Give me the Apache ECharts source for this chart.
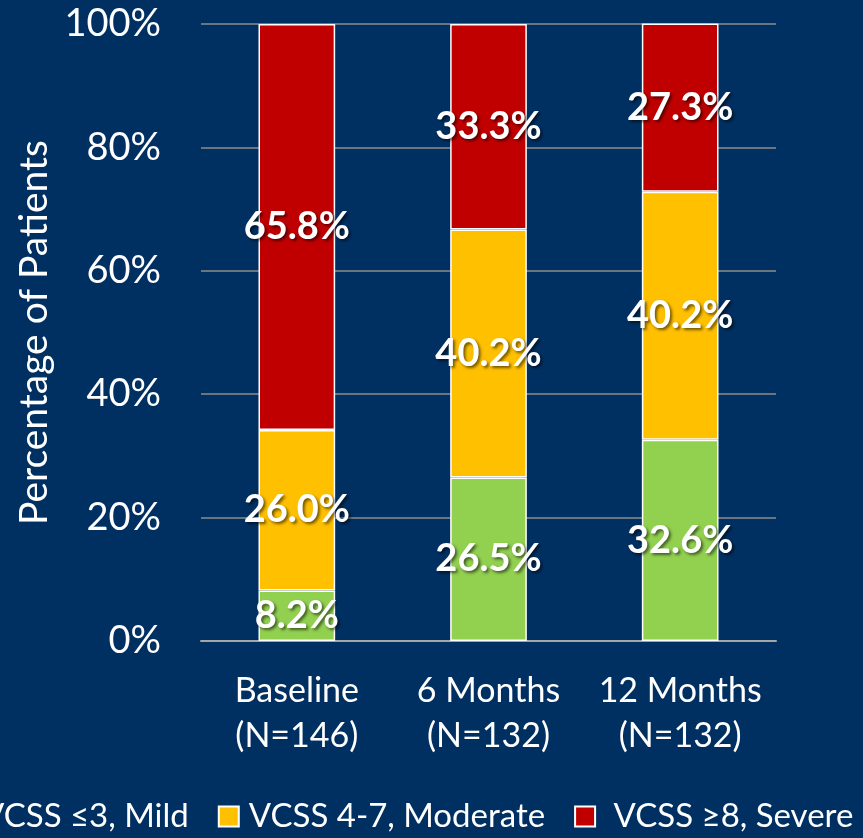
<!DOCTYPE html>
<html>
<head>
<meta charset="utf-8">
<script src="https://cdn.jsdelivr.net/npm/echarts@6/dist/echarts.min.js"></script>
<style>
html,body{margin:0;padding:0;background:#003062;}
#chart{width:863px;height:838px;}
</style>
</head>
<body>
<div id="chart"></div>
<script>
const categories = ['Baseline\n(N=146)', '6 Months\n(N=132)', '12 Months\n(N=132)'];
const seriesNames = ['VCSS \u22643, Mild', 'VCSS 4-7, Moderate', ' VCSS \u22658, Severe'];
const mild = [8.2, 26.5, 32.6];
const moderate = [26.0, 40.2, 40.2];
const severe = [65.8, 33.3, 27.3];
const yTicks = [0, 20, 40, 60, 80, 100];
const colors = ['#92D050', '#FFC000', '#C00000'];

const FONT = 'Lato';
const chart = echarts.init(document.getElementById('chart'));
const labelStyle = {
  show: true,
  position: 'inside',
  color: '#fff',
  fontFamily: FONT,
  fontWeight: 'bold',
  fontSize: 38,
  textShadowColor: 'rgba(0,0,0,0.55)',
  textShadowBlur: 3,
  textShadowOffsetX: 2,
  textShadowOffsetY: 2,
  formatter: p => p.value.toFixed(1) + '%'
};
function mk(name, data, color) {
  return {
    name: name, type: 'bar', stack: 'all', data: data, barWidth: '40%',
    itemStyle: { color: color, borderColor: '#ffffff', borderWidth: 1.5 },
    label: labelStyle
  };
}
chart.setOption({
  backgroundColor: '#003062',
  animation: false,
  grid: { left: 201, right: 87, top: 24, bottom: 197 },
  legend: {
    left: -54, top: 795, width: 1400,
    icon: 'rect', itemWidth: 20, itemHeight: 20, itemGap: 29,
    textStyle: { color: '#fff', fontFamily: FONT, fontSize: 33, padding: [0, 0, 0, 5] },
    data: seriesNames
  },
  xAxis: {
    type: 'category', data: categories,
    axisLine: { lineStyle: { color: '#a6a6a6', width: 2 } },
    axisTick: { show: false },
    axisLabel: { interval: 0, color: '#fff', fontFamily: FONT, fontSize: 34, lineHeight: 45, margin: 28 }
  },
  yAxis: {
    type: 'value', min: 0, max: 100, interval: 20,
    name: 'Percentage of Patients', nameLocation: 'middle', nameGap: 144,
    nameTextStyle: { color: '#fff', fontFamily: FONT, fontSize: 39 },
    axisLine: { show: false }, axisTick: { show: false },
    axisLabel: { color: '#fff', fontFamily: FONT, fontSize: 38, margin: 40,
      formatter: v => yTicks.includes(v) ? v + '%' : '' },
    splitLine: { lineStyle: { color: '#8c8c8c', width: 1.5 } }
  },
  series: [
    mk(seriesNames[0], mild, colors[0]),
    mk(seriesNames[1], moderate, colors[1]),
    mk(seriesNames[2], severe, colors[2])
  ]
});
</script>
</body>
</html>
